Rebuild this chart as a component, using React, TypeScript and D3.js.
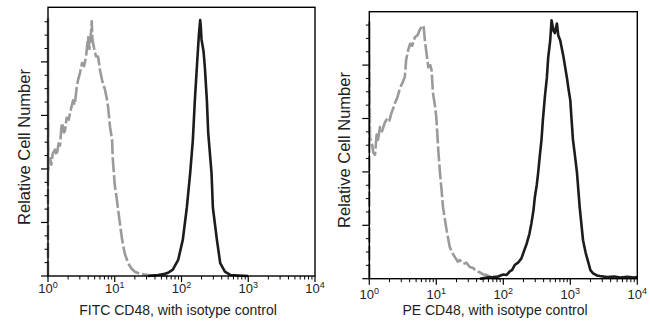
import React from "react";
import * as d3 from "d3";

// x values are log10(fluorescence), y values are relative cell counts
const leftIsotype: [number, number][] = [
  [0, 0], [0, 240], [0.005, 99], [0.03, 110], [0.05, 104], [0.07, 114], [0.105, 118], [0.13, 113],
  [0.16, 124], [0.18, 122], [0.2, 138], [0.21, 143], [0.24, 134], [0.255, 136], [0.28, 148],
  [0.31, 146], [0.34, 155], [0.375, 164], [0.4, 160], [0.43, 176], [0.45, 183], [0.48, 190],
  [0.51, 199], [0.54, 196], [0.57, 205], [0.6, 223], [0.62, 212], [0.645, 228], [0.655, 238],
  [0.665, 222], [0.674, 218], [0.7, 210], [0.72, 205], [0.75, 205], [0.78, 192], [0.81, 183],
  [0.834, 178], [0.854, 174], [0.88, 166], [0.9, 158], [0.93, 139], [0.96, 127], [0.97, 110],
  [1.0, 85], [1.03, 72], [1.05, 62], [1.08, 48], [1.11, 34], [1.15, 21], [1.2, 12], [1.25, 7],
  [1.3, 4], [1.38, 2], [1.5, 1], [1.65, 0.5], [1.8, 0],
];
const leftStained: [number, number][] = [
  [1.5, 0], [1.65, 1], [1.75, 2], [1.8, 3], [1.87, 6], [1.95, 15], [2.02, 34], [2.08, 64],
  [2.13, 96], [2.17, 127], [2.2, 164], [2.23, 195], [2.26, 225], [2.28, 239], [2.29, 232],
  [2.3, 221], [2.33, 210], [2.35, 195], [2.38, 164], [2.4, 134], [2.45, 96], [2.47, 64],
  [2.53, 34], [2.58, 12], [2.65, 4], [2.73, 1], [2.85, 0.5], [3.0, 0],
];
const rightIsotype: [number, number][] = [
  [0, 0], [0, 240], [0.01, 132], [0.036, 128], [0.06, 118], [0.085, 116], [0.11, 135], [0.13, 130],
  [0.16, 142], [0.19, 138], [0.23, 146], [0.27, 150], [0.3, 148], [0.33, 155], [0.36, 160],
  [0.38, 164], [0.42, 170], [0.46, 179], [0.5, 184], [0.53, 189], [0.55, 205], [0.58, 214],
  [0.61, 220], [0.64, 218], [0.68, 226], [0.72, 228], [0.76, 234], [0.79, 236], [0.81, 237],
  [0.83, 223], [0.86, 208], [0.88, 198], [0.91, 200], [0.93, 195], [0.95, 174], [0.98, 162],
  [1.0, 151], [1.03, 120], [1.055, 99], [1.08, 82], [1.1, 67], [1.13, 55], [1.155, 45], [1.2, 30],
  [1.24, 24], [1.28, 20], [1.32, 16], [1.35, 17.5], [1.4, 14], [1.45, 15], [1.5, 11], [1.55, 10],
  [1.6, 7], [1.65, 6], [1.7, 4], [1.75, 3.5], [1.8, 2], [1.85, 0.7], [1.95, 0],
];
const rightStained: [number, number][] = [
  [1.65, 0], [1.75, 1], [1.85, 1.5], [1.92, 2], [2.0, 4], [2.05, 3.5], [2.1, 7], [2.13, 8],
  [2.17, 12.8], [2.22, 15], [2.27, 19], [2.31, 26], [2.35, 33], [2.39, 42], [2.42, 52], [2.45, 64],
  [2.47, 76], [2.5, 88], [2.52, 99], [2.545, 115], [2.57, 130], [2.59, 148], [2.62, 170],
  [2.65, 188], [2.67, 207], [2.7, 223], [2.72, 242], [2.75, 232], [2.77, 230], [2.8, 239],
  [2.82, 228], [2.85, 223], [2.9, 207], [2.95, 188], [2.97, 179], [3.0, 167], [3.02, 148],
  [3.04, 130], [3.07, 115], [3.1, 99], [3.14, 67], [3.19, 36], [3.23, 24], [3.27, 15], [3.3, 8],
  [3.34, 5], [3.4, 3], [3.44, 2.5], [3.55, 1.5], [3.65, 2], [3.75, 1], [3.85, 1.8], [3.95, 1],
  [4.0, 1.5],
];

const decadeExponents = [0, 1, 2, 3, 4];
const yMajorTicks = [0, 50, 100, 150, 200];
const yLabel = "Relative Cell Number";
const xTitles = ["FITC CD48, with isotype control", "PE CD48, with isotype control"];

const FONT = "'Liberation Sans', Arial, Helvetica, sans-serif";
const GREY = "#9a9a9a";
const BLACK = "#1c1c1c";

type PanelCfg = {
  left: number; right: number; top: number; bottom: number; yMax: number;
  labelX: number; labelY: number; tickLabelDy: number; titleX: number; titleY: number;
  title: string; iso: [number, number][]; stain: [number, number][];
};

const panels: PanelCfg[] = [
  { left: 48, right: 315, top: 7.3, bottom: 276, yMax: 251, labelX: 30, labelY: 147,
    tickLabelDy: 17, titleX: 178, titleY: 314.5, title: xTitles[0], iso: leftIsotype, stain: leftStained },
  { left: 369.3, right: 637.3, top: 11.7, bottom: 278.7, yMax: 250, labelX: 350, labelY: 150,
    tickLabelDy: 20, titleX: 495, titleY: 314.5, title: xTitles[1], iso: rightIsotype, stain: rightStained },
];

function Panel({ p }: { p: PanelCfg }) {
  const x = d3.scaleLinear().domain([0, 4]).range([p.left, p.right]);
  const y = d3.scaleLinear().domain([0, p.yMax]).range([p.bottom, p.top]);
  const line = d3.line<[number, number]>().x((d) => x(d[0])).y((d) => y(d[1])).curveLinear;
  const lineGen = d3.line<[number, number]>().x((d) => x(d[0])).y((d) => y(d[1])).curve(d3.curveLinear);
  void line;

  const minorX: number[] = [];
  for (let e = 0; e < 4; e++) for (let k = 2; k <= 9; k++) minorX.push(e + Math.log10(k));
  const minorY: number[] = [];
  for (let v = 0; v < p.yMax - 1; v += 12.5) if (v % 50 !== 0) minorY.push(v);

  return (
    <g>
      <path d={lineGen(p.iso) || ""} fill="none" stroke={GREY} strokeWidth={2.6}
        strokeDasharray="15 3" strokeLinejoin="round" />
      <path d={lineGen(p.stain) || ""} fill="none" stroke={BLACK} strokeWidth={2.6}
        strokeLinejoin="round" />
      <rect x={p.left} y={p.top} width={p.right - p.left} height={p.bottom - p.top}
        fill="none" stroke="#000" strokeWidth={1.4} />
      {yMajorTicks.map((v) => (
        <line key={"ym" + v} x1={p.left - 7} x2={p.left} y1={y(v)} y2={y(v)} stroke="#000" strokeWidth={1.2} />
      ))}
      {minorY.map((v) => (
        <line key={"yn" + v} x1={p.left - 3.5} x2={p.left} y1={y(v)} y2={y(v)} stroke="#000" strokeWidth={1} />
      ))}
      {decadeExponents.map((e) => (
        <line key={"xm" + e} x1={x(e)} x2={x(e)} y1={p.bottom} y2={p.bottom + 6} stroke="#000" strokeWidth={1.2} />
      ))}
      {minorX.map((v, i) => (
        <line key={"xn" + i} x1={x(v)} x2={x(v)} y1={p.bottom} y2={p.bottom + 3.5} stroke="#000" strokeWidth={1} />
      ))}
      {decadeExponents.map((e) => (
        <text key={"xl" + e} x={x(e)} y={p.bottom + p.tickLabelDy} textAnchor="middle"
          fontFamily={FONT} fontSize={13} fill="#222">
          10<tspan fontSize={9} dy={-5}>{e}</tspan>
        </text>
      ))}
      <text x={p.titleX} y={p.titleY} textAnchor="middle" fontFamily={FONT} fontSize={14} fill="#222">
        {p.title}
      </text>
      <text transform={`translate(${p.labelX},${p.labelY}) rotate(-90)`} textAnchor="middle"
        fontFamily={FONT} fontSize={16.5} fill="#222">
        {yLabel}
      </text>
    </g>
  );
}

export default function App() {
  return (
    <svg width={650} height={324} style={{ position: "absolute", left: 0, top: 0, background: "#fff" }}>
      <rect x={0} y={0} width={650} height={324} fill="#fff" />
      {panels.map((p, i) => (
        <Panel key={i} p={p} />
      ))}
    </svg>
  );
}
